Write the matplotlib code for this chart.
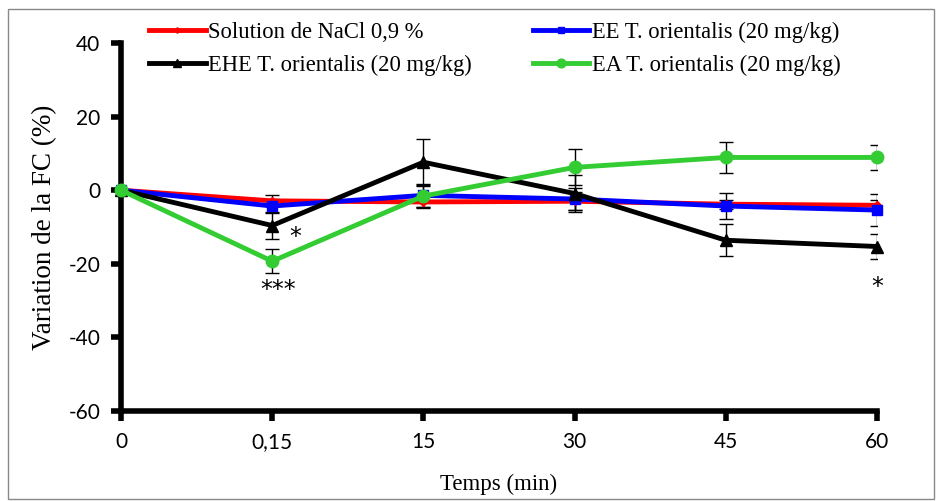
import numpy as np
import matplotlib.pyplot as plt
from matplotlib.patches import Rectangle

plt.rcParams['axes.unicode_minus'] = False

times = ['0', '0,15', '15', '30', '45', '60']

nacl = [0, -2.9, -3.2, -3.0, -3.8, -4.1]
nacl_err = [0, 1.5, 1.7, 2.5, 1.2, 1.4]

ee = [0, -4.3, -1.4, -2.4, -4.3, -5.4]
ee_err = [0, 1.8, 3.2, 3.0, 3.5, 4.3]

ehe = [0, -9.6, 7.6, -0.9, -13.6, -15.3]
ehe_err = [0, 3.7, 6.4, 4.9, 4.3, 3.5]

ea = [0, -19.3, -1.6, 6.2, 8.9, 8.9]
ea_err = [0, 3.2, 3.0, 4.9, 4.3, 3.4]

# significance marks: (x index, y position, text)
stars = [(1.15, -12.6, '*'), (1.04, -27.2, '***'), (5, -26.2, '*')]

fig = plt.figure(figsize=(9.42, 5.01), dpi=100)
ax = fig.add_axes([121/942, 1 - 411/501, (877 - 121)/942, (411 - 43)/501])

x = np.arange(len(times))
series = [
    (nacl, nacl_err, 'red', 'D', 4, 'Solution de NaCl 0,9 %'),
    (ee, ee_err, 'blue', 's', 7, 'EE T. orientalis (20 mg/kg)'),
    (ehe, ehe_err, 'black', '^', 8, 'EHE T. orientalis (20 mg/kg)'),
    (ea, ea_err, '#33cc33', 'o', 9, 'EA T. orientalis (20 mg/kg)'),
]
handles = []
for vals, err, col, mk, ms, lab in series:
    ax.errorbar(x, vals, yerr=err, fmt='none', ecolor='black', elinewidth=1, capsize=5, capthick=1, zorder=2)
    h, = ax.plot(x, vals, color=col, marker=mk, markersize=ms, linewidth=3.5, label=lab, zorder=3)
    handles.append(h)

for sx, sy, s in stars:
    ax.text(sx, sy, s, fontsize=17, ha='center', va='center', family='DejaVu Sans')

ax.set_xlim(0, 5)
ax.set_ylim(-60, 40)
ax.set_yticks(np.arange(-60, 41, 20))
ax.set_xticks(x)
ax.set_xticklabels(times)
ax.spines['top'].set_visible(False)
ax.spines['right'].set_visible(False)
ax.spines['left'].set_linewidth(4)
ax.spines['bottom'].set_linewidth(4)
ax.tick_params(direction='out', length=7, width=4, labelsize=15, pad=8)
for lbl in ax.get_xticklabels() + ax.get_yticklabels():
    lbl.set_family('Lato')
for s in ['left', 'bottom']:
    ax.spines[s].set_clip_on(False)
for h in handles:
    h.set_clip_on(False)

ax.set_xlabel('Temps (min)', family='Liberation Serif', fontsize=16.5, labelpad=16)
ax.set_ylabel('Variation de la FC (%)', family='Liberation Serif', fontsize=19.5, labelpad=8)

order = [handles[0], handles[2], handles[1], handles[3]]
leg = fig.legend(order, [h.get_label() for h in order], ncol=2, loc='upper left',
                 bbox_to_anchor=(149/942, 1 - 22/501), frameon=False,
                 prop={'family': 'Liberation Serif', 'size': 16.3}, handlelength=2.5,
                 handletextpad=0.1, columnspacing=2.7, labelspacing=0.5, borderaxespad=0,
                 borderpad=0, markerscale=0.7)

fig.patches.append(Rectangle((8/942, 2/501), 926/942, 1 - 11/501, transform=fig.transFigure,
                             fill=False, edgecolor='#888888', linewidth=1))

fig.savefig('out.png', dpi=100)
